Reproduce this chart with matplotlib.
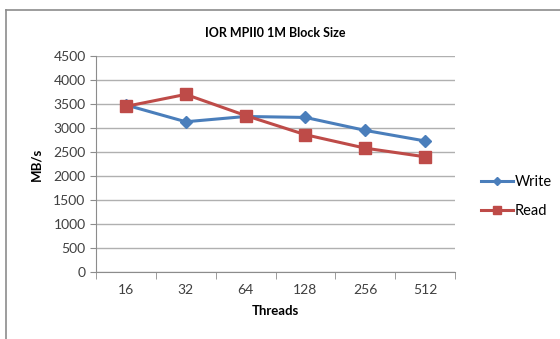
from matplotlib import pyplot as plt
from matplotlib.lines import Line2D
from matplotlib.ticker import MultipleLocator, FixedLocator

threads = ['16', '32', '64', '128', '256', '512']
write = [3480, 3130, 3240, 3220, 2950, 2730]
read = [3450, 3700, 3260, 2860, 2580, 2400]

plt.rcParams['font.family'] = ['Lato', 'DejaVu Sans']

fig = plt.figure(figsize=(5.6, 3.39), dpi=100)
# chart frame: top and left edges only (the rest is cropped off)
top = 1 - 10 / 339
fig.lines.append(Line2D([6 / 560, 1], [top, top], transform=fig.transFigure,
                        color='#8c8c8c', lw=1.2))
fig.lines.append(Line2D([6 / 560, 6 / 560], [0, top], transform=fig.transFigure,
                        color='#8c8c8c', lw=1.2))
ax = fig.add_axes([96 / 560, 1 - 272 / 339, (455 - 96) / 560, (272 - 56) / 339])

x = range(len(threads))
ax.plot(x, write, color='#4a7ebb', lw=2.2, marker='D', ms=6.5, label='Write')
ax.plot(x, read, color='#be4b48', lw=2.2, marker='s', ms=8, label='Read')

ax.set_xlim(-0.5, len(threads) - 0.5)
ax.set_ylim(0, 4500)
ax.yaxis.set_major_locator(MultipleLocator(500))
ax.set_xticks(list(x))
ax.set_xticklabels(threads)
ax.xaxis.set_minor_locator(FixedLocator([i - 0.5 for i in range(len(threads) + 1)]))
ax.tick_params(axis='x', which='major', length=0, pad=9, labelsize=10, colors='#404040')
ax.tick_params(axis='x', which='minor', length=5, color='#8c8c8c')
ax.tick_params(axis='y', length=4, color='#8c8c8c', labelsize=10, labelcolor='#404040')
ax.grid(axis='y', color='#b0b0b0', lw=1.0)
ax.set_axisbelow(True)
for side in ('top', 'right'):
    ax.spines[side].set_visible(False)
for side in ('left', 'bottom'):
    ax.spines[side].set_color('#8c8c8c')

ax.set_title('IOR MPII0 1M Block Size', fontsize=9, fontweight='bold', pad=14)
ax.set_xlabel('Threads', fontsize=9.5, fontweight='bold', labelpad=6)
ax.set_ylabel('MB/s', fontsize=9.5, fontweight='bold', labelpad=8)

ax.legend(loc='center left', bbox_to_anchor=(1.035, 0.35), frameon=False,
          fontsize=10.5, handlelength=2.2, labelspacing=1.0, handletextpad=0.15,
          markerscale=0.7)

plt.savefig('out.png')
